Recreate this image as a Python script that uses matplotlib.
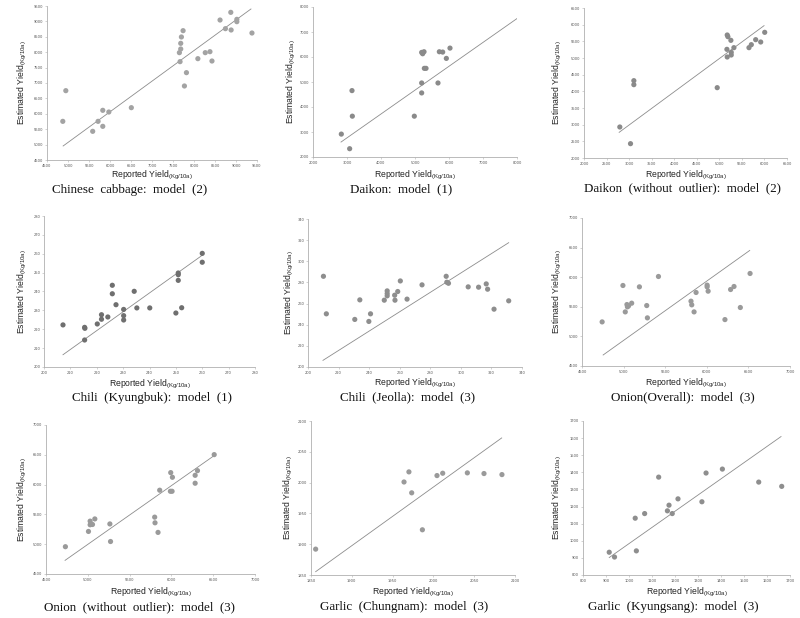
import numpy as np
import matplotlib.pyplot as plt

# ---- data (reported vs estimated yield, Kg/10a) ----
cabbage_x = [4876, 4948, 5588, 5716, 5828, 5828, 5972, 6508, 7668, 7652, 7684, 7684,
             7700, 7740, 7820, 7772, 8092, 8268, 8380, 8428, 8620, 8748, 8876, 8884,
             9020, 9020, 9380]
cabbage_y = [5755, 6751, 5431, 5755, 6113, 5593, 6058, 6199, 7693, 7985, 8104, 8288,
             8494, 8699, 7336, 6903, 7790, 7985, 8017, 7714, 9045, 8764, 9294, 8721,
             9067, 8991, 8623]
cabbage_fit_x = [4884, 9356]
cabbage_fit_y = [4955, 9403]

daikon_x = [2833, 3078, 3147, 3157, 4980, 5196, 5196, 5196, 5225, 5265, 5275, 5324,
            5676, 5716, 5814, 5922, 6029]
daikon_y = [2916, 2332, 4656, 3633, 3633, 4961, 4563, 6183, 6130, 6210, 5546, 5546,
            4961, 6210, 6197, 5944, 6356]
daikon_fit_x = [2824, 8000]
daikon_fit_y = [2598, 7538]

daikon2_x = [2794, 3031, 3105, 3105, 4953, 5175, 5190, 5168, 5175, 5256, 5264, 5264,
             5323, 5657, 5709, 5806, 5917, 6006]
daikon2_y = [2930, 2430, 4320, 4200, 4110, 5690, 5640, 5260, 5030, 5530, 5170, 5090,
             5310, 5310, 5400, 5550, 5480, 5770]
daikon2_fit_x = [2779, 5991]
daikon2_fit_y = [2770, 5970]

chili_kb_x = [207.2, 215.4, 215.5, 215.4, 220.2, 221.8, 221.8, 224.2, 225.9, 225.9,
              227.3, 230.2, 230.2, 230.2, 234.2, 235.2, 240.1, 250.0, 250.9, 250.9,
              250.9, 252.2, 260.0, 260.0]
chili_kb_y = [222.3, 221.0, 220.5, 214.3, 222.8, 227.7, 225.3, 226.5, 243.3, 238.8,
              233.0, 230.5, 227.2, 224.9, 240.1, 231.3, 231.3, 228.6, 249.8, 248.9,
              245.9, 231.4, 260.2, 255.5]
chili_kb_fit_x = [207.2, 260.0]
chili_kb_fit_y = [206.5, 259.2]

chili_jl_x = [210.1, 212.0, 230.6, 233.9, 239.8, 240.9, 249.9, 251.8, 251.8, 251.8,
              256.7, 256.9, 258.7, 260.4, 264.8, 274.6, 290.4, 290.8, 291.9, 304.8,
              311.6, 316.6, 317.5, 321.7, 331.3]
chili_jl_y = [285.8, 250.3, 245.0, 263.5, 243.1, 250.3, 263.2, 267.3, 269.5, 272.0,
              267.9, 263.2, 271.4, 281.4, 264.2, 277.7, 285.8, 280.2, 279.2, 275.8,
              275.5, 278.6, 273.6, 254.7, 262.6]
chili_jl_fit_x = [209.8, 331.3]
chili_jl_fit_y = [206.3, 317.6]

onion_x = [4742, 4992, 5020, 5040, 5046, 5060, 5097, 5190, 5278, 5286, 5419, 5810,
           5819, 5847, 5871, 6004, 6004, 6016, 6218, 6286, 6327, 6403, 6520]
onion_y = [5245, 5860, 5414, 5538, 5499, 5516, 5561, 5837, 5521, 5313, 6012, 5595,
           5533, 5414, 5742, 5866, 5837, 5764, 5284, 5792, 5843, 5488, 6063]
onion_fit_x = [4754, 6516]
onion_fit_y = [4686, 6452]

onion2_x = [4732, 5008, 5028, 5028, 5056, 5084, 5264, 5272, 5800, 5804, 5840, 5860,
            5988, 6008, 5992, 6012, 6284, 6284, 6312, 6512]
onion2_y = [4958, 5214, 5387, 5326, 5331, 5424, 5340, 5045, 5454, 5359, 5198, 5906,
            5888, 5888, 6201, 6123, 6156, 6023, 6234, 6503]
onion2_fit_x = [4728, 6512]
onion2_fit_y = [4729, 6487]

garlic_cn_x = [1855.7, 1964.0, 1970.0, 1973.4, 1986.5, 2004.4, 2011.4, 2041.6, 2062.0, 2084.0]
garlic_cn_y = [1892.0, 2001.0, 2017.4, 1983.4, 1923.4, 2011.4, 2015.2, 2015.8, 2014.7, 2013.0]
garlic_cn_fit_x = [1855.7, 2083.7]
garlic_cn_fit_y = [1855.4, 2072.5]

garlic_ks_x = [914, 937, 1027, 1032, 1068, 1129, 1167, 1174, 1188, 1213, 1317, 1335,
               1406, 1564, 1664]
garlic_ks_y = [933, 905, 1132, 941, 1159, 1372, 1175, 1208, 1159, 1245, 1228, 1396,
               1419, 1343, 1318]
garlic_ks_fit_x = [914, 1661]
garlic_ks_fit_y = [902, 1609]

titles = ["Chinese  cabbage:  model  (2)", "Daikon:  model  (1)",
          "Daikon  (without  outlier):  model  (2)",
          "Chili  (Kyungbuk):  model  (1)", "Chili  (Jeolla):  model  (3)",
          "Onion(Overall):  model  (3)",
          "Onion  (without  outlier):  model  (3)", "Garlic  (Chungnam):  model  (3)",
          "Garlic  (Kyungsang):  model  (3)"]

ticks = [list(range(4500, 10000, 500)), list(range(2000, 9000, 1000)),
         list(range(2000, 7000, 500)), list(range(200, 290, 10)),
         list(range(200, 360, 20)), list(range(4500, 7500, 500)),
         list(range(4500, 7500, 500)), list(range(1850, 2150, 50)),
         list(range(800, 1800, 100))]

series = [(cabbage_x, cabbage_y, cabbage_fit_x, cabbage_fit_y),
          (daikon_x, daikon_y, daikon_fit_x, daikon_fit_y),
          (daikon2_x, daikon2_y, daikon2_fit_x, daikon2_fit_y),
          (chili_kb_x, chili_kb_y, chili_kb_fit_x, chili_kb_fit_y),
          (chili_jl_x, chili_jl_y, chili_jl_fit_x, chili_jl_fit_y),
          (onion_x, onion_y, onion_fit_x, onion_fit_y),
          (onion2_x, onion2_y, onion2_fit_x, onion2_fit_y),
          (garlic_cn_x, garlic_cn_y, garlic_cn_fit_x, garlic_cn_fit_y),
          (garlic_ks_x, garlic_ks_y, garlic_ks_fit_x, garlic_ks_fit_y)]

marker_colors = ["#a3a3a3", "#8a8a8a", "#8a8a8a", "#6f6f6f", "#8e8e8e",
                 "#9a9a9a", "#9a9a9a", "#9a9a9a", "#8e8e8e"]

# panel layout in pixels: left, right, top, bottom of the plot area
boxes = [(47, 257, 6, 160), (313, 517, 7, 157), (584, 787, 8, 158),
         (44, 255, 216, 367), (308, 522, 219, 367), (582, 790, 218, 366),
         (46, 255, 425, 574), (311, 515, 421, 575), (583, 790, 421, 575)]
ylab_x = [22, 291, 557, 22, 289, 557, 22, 288, 557]
xlab_y = [175, 175, 175, 384, 383, 383, 592, 592, 592]
title_y = [190, 189, 188, 398, 397, 397, 607, 607, 607]
title_x = [130, 401, 682, 152, 408, 683, 139, 404, 673]

W, H = 800, 618
fig = plt.figure(figsize=(W / 100, H / 100), dpi=100)
fig.patch.set_facecolor("white")

grey = "#b0b0b0"
for i, (xs, ys, fx, fy) in enumerate(series):
    l, r, t, b = boxes[i]
    ax = fig.add_axes([l / W, 1 - b / H, (r - l) / W, (b - t) / H])
    tk = ticks[i]
    ax.set_xlim(tk[0], tk[-1])
    ax.set_ylim(tk[0], tk[-1])
    ax.set_xticks(tk)
    ax.set_yticks(tk)
    ax.tick_params(labelsize=2.6, labelcolor="#555555", length=1.5, width=0.4,
                   color=grey, pad=1.2)
    for side in ["top", "right"]:
        ax.spines[side].set_visible(False)
    for side in ["left", "bottom"]:
        ax.spines[side].set_color(grey)
        ax.spines[side].set_linewidth(0.6)

    ax.plot(fx, fy, color="#8c8c8c", lw=0.6, zorder=2)
    ax.scatter(xs, ys, s=14, color=marker_colors[i], edgecolors="none",
               zorder=3, clip_on=False)

    cx = (l + r) / 2
    fig.text(cx / W, 1 - xlab_y[i] / H,
             r"Reported Yield$_{\mathregular{(Kg/10a)}}$",
             ha="center", va="center", fontsize=6.2, family="Liberation Sans",
             color="#222222")
    fig.text(ylab_x[i] / W, 1 - (t + b) / 2 / H,
             r"Estimated Yield$_{\mathregular{(Kg/10a)}}$",
             ha="center", va="center", rotation=90, fontsize=6.2,
             family="Liberation Sans", color="#222222")
    fig.text(title_x[i] / W, 1 - title_y[i] / H, titles[i],
             ha="center", va="center", fontsize=9.4, family="Liberation Serif",
             color="#111111")

fig.savefig("out.png", dpi=100)
